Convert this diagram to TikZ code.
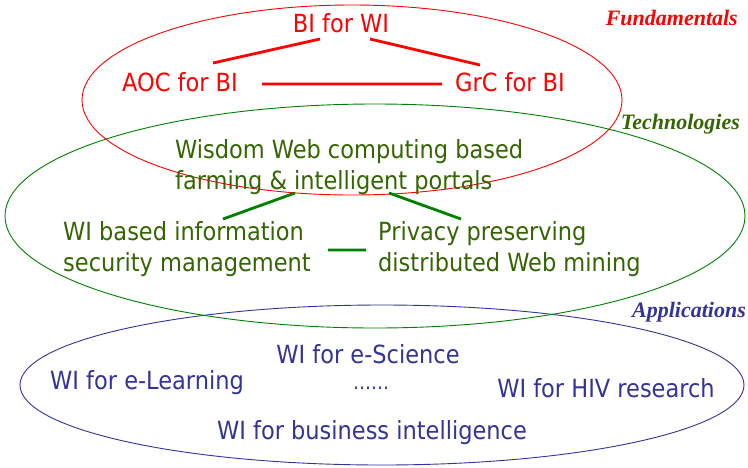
\documentclass[tikz,border=0pt]{standalone}
\usepackage{fontspec}
\setmainfont{DejaVu Sans Condensed}
\newfontfamily\layerfont{Liberation Serif}
\usepackage{tikz}
\definecolor{fundred}{RGB}{255,0,0}
\definecolor{techgreen}{RGB}{51,102,0}
\definecolor{techline}{RGB}{0,128,0}
\definecolor{appblue}{RGB}{51,51,153}
\tikzset{
  item/.style={inner sep=0pt, font=\fontsize{25}{31}\selectfont, align=left},
  layer/.style={inner sep=0pt, anchor=east, font=\layerfont\bfseries\itshape\fontsize{22}{26}\selectfont},
  link/.style={line width=2.8pt}
}

\begin{document}
\begin{tikzpicture}[x=1pt,y=-1pt]
      \useasboundingbox (0,0) rectangle (748,467);

        % the three layers
        \draw[appblue, line width=.9pt] (382,385) ellipse [x radius=362, y radius=80];
        \draw[techline, line width=.9pt] (375,216) ellipse [x radius=370, y radius=112];
        \draw[fundred, line width=.9pt] (352,100) ellipse [x radius=270, y radius=95];

        \node (fund) at (738,18) [layer, text=fundred] {Fundamentals};
        \node (tech) at (740,124) [layer, text=techgreen] {Technologies};
        \node (appl) at (746,312) [layer, text=appblue] {Applications};

        % fundamentals
        \node (biwi) at (341,23) [item, text=fundred] {BI for WI};
        \node (aoc) at (180,82) [item, text=fundred] {AOC for BI};
        \node (grc) at (510,82) [item, text=fundred] {GrC for BI};
        \coordinate (biwiL) at (320,39);
        \coordinate (biwiR) at (370,39);
        \coordinate (aocT) at (213,63);
        \coordinate (grcT) at (480,65);
        \coordinate (aocE) at (262,84);
        \coordinate (grcW) at (442,84);
        \draw[link, fundred]
        (biwiL) -- (aocT)
        (biwiR) -- (grcT)
        (aocE) -- (grcW);

        % technologies
        \node (wwc) at (175,167) [item, anchor=west, text=techgreen]
              {Wisdom Web computing based\\farming \& intelligent portals};
        \node (wisec) at (63,249) [item, anchor=west, text=techgreen]
              {WI based information\\security management};
        \node (ppdm) at (378,249) [item, anchor=west, text=techgreen]
              {Privacy preserving\\distributed Web mining};
        \coordinate (wwcL) at (295,193);
        \coordinate (wwcR) at (389,193);
        \coordinate (wisecT) at (223,219);
        \coordinate (ppdmT) at (461,219);
        \coordinate (wisecE) at (328,250);
        \coordinate (ppdmW) at (366,250);
        \draw[link, techline]
        (wwcL) -- (wisecT)
        (wwcR) -- (ppdmT)
        (wisecE) -- (ppdmW);

        % applications
        \node (esci) at (368,354) [item, text=appblue] {WI for e-Science};
        \node (elearn) at (147,383) [item, text=appblue] {WI for e-Learning};
        \node (dots) at (371,388) [item, text=appblue, font=\fontsize{20}{24}\selectfont] {\ldots\ldots};
        \node (hiv) at (606,388) [item, text=appblue] {WI for HIV research};
        \node (bizint) at (372,433) [item, text=appblue] {WI for business intelligence};
    \end{tikzpicture}
\end{document}
